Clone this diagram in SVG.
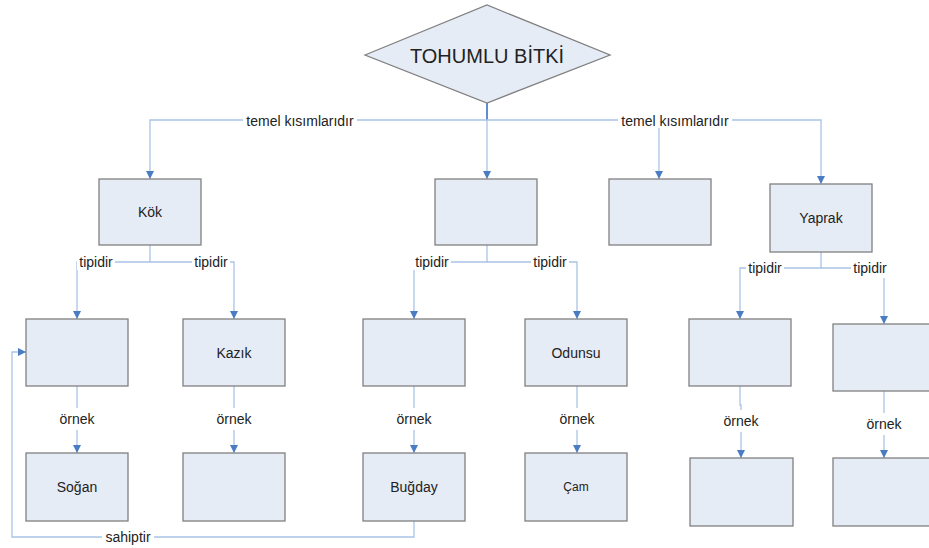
<svg xmlns="http://www.w3.org/2000/svg" width="929" height="548" viewBox="0 0 929 548">
<style>
.box{fill:#e6ecf6;stroke:#808080;stroke-width:1.3}
.dia{fill:#e6ecf6;stroke:#808080;stroke-width:1.3}
.c{fill:none;stroke:#a9c3e6;stroke-width:1.3}
.cd{fill:none;stroke:#5f8dcf;stroke-width:2}
.t{font-family:"Liberation Sans",Arial,sans-serif;font-size:14px;fill:#222;text-anchor:middle;dominant-baseline:central}
.lb{fill:#fff}
</style>
<defs>
<marker id="ah" markerWidth="10" markerHeight="10" refX="9" refY="5" orient="auto" markerUnits="userSpaceOnUse" viewBox="0 0 10 10">
<path d="M1,1 L9,5 L1,9 Z" fill="#4a7cc4"/>
</marker>
</defs>
<rect width="929" height="548" fill="#fff"/>
<g id="connectors">
<path class="cd" d="M487,103 V120"/>
<path class="c" d="M487,120 H150 V179" marker-end="url(#ah)"/>
<path class="c" d="M487,120 V179" marker-end="url(#ah)"/>
<path class="c" d="M487,120 H821 V184" marker-end="url(#ah)"/>
<path class="c" d="M659,128 V179" marker-end="url(#ah)"/>
<path class="c" d="M150,245 V262 H77 V319" marker-end="url(#ah)"/>
<path class="c" d="M150,262 H234 V319" marker-end="url(#ah)"/>
<path class="c" d="M487,245 V262 H414 V319" marker-end="url(#ah)"/>
<path class="c" d="M487,262 H577 V319" marker-end="url(#ah)"/>
<path class="c" d="M821,252 V268 H740 V319" marker-end="url(#ah)"/>
<path class="c" d="M821,268 H884 V324" marker-end="url(#ah)"/>
<path class="c" d="M77,386 V453" marker-end="url(#ah)"/>
<path class="c" d="M234,386 V453" marker-end="url(#ah)"/>
<path class="c" d="M414,386 V453" marker-end="url(#ah)"/>
<path class="c" d="M577,386 V453" marker-end="url(#ah)"/>
<path class="c" d="M740,386 V405 H741 V458" marker-end="url(#ah)"/>
<path class="c" d="M884,391 V458" marker-end="url(#ah)"/>
<path class="c" d="M414,521 V537 H12 V352 H26" marker-end="url(#ah)"/>
<rect class="lb" x="243" y="112" width="114" height="17"/>
<text class="t" x="300" y="121">temel kısımlarıdır</text>
<rect class="lb" x="618" y="112" width="114" height="16"/>
<text class="t" x="675" y="121">temel kısımlarıdır</text>
<rect class="lb" x="77" y="254" width="38" height="16"/>
<text class="t" x="96" y="262">tipidir</text>
<rect class="lb" x="192" y="254" width="38" height="16"/>
<text class="t" x="211" y="262">tipidir</text>
<rect class="lb" x="413" y="254" width="38" height="16"/>
<text class="t" x="432" y="262">tipidir</text>
<rect class="lb" x="531" y="254" width="38" height="16"/>
<text class="t" x="550" y="262">tipidir</text>
<rect class="lb" x="746" y="260" width="38" height="17"/>
<text class="t" x="765" y="268">tipidir</text>
<rect class="lb" x="851" y="260" width="38" height="18"/>
<text class="t" x="870" y="268">tipidir</text>
<rect class="lb" x="56" y="408" width="42" height="22"/>
<text class="t" x="77" y="419">örnek</text>
<rect class="lb" x="213" y="408" width="42" height="22"/>
<text class="t" x="234" y="419">örnek</text>
<rect class="lb" x="393" y="408" width="42" height="22"/>
<text class="t" x="414" y="419">örnek</text>
<rect class="lb" x="556" y="408" width="42" height="22"/>
<text class="t" x="577" y="419">örnek</text>
<rect class="lb" x="720" y="410" width="42" height="22"/>
<text class="t" x="741" y="421">örnek</text>
<rect class="lb" x="863" y="413" width="42" height="22"/>
<text class="t" x="884" y="424">örnek</text>
<rect class="lb" x="102" y="529" width="52" height="16"/>
<text class="t" x="128" y="537">sahiptir</text>
</g>
<g id="n-tohumlu">
<polygon class="dia" points="365,55 487,5 610,55 487,103"/>
<text class="t" x="487" y="56" style="font-size:20px">TOHUMLU BİTKİ</text>
</g>
<g id="n-kok"><rect class="box" x="99" y="179" width="102" height="66"/><text class="t" x="150" y="212">Kök</text></g>
<g id="n-govde"><rect class="box" x="435" y="179" width="102" height="66"/></g>
<g id="n-cicek"><rect class="box" x="609" y="179" width="102" height="66"/></g>
<g id="n-yaprak"><rect class="box" x="770" y="184" width="102" height="68"/><text class="t" x="821" y="218">Yaprak</text></g>
<g id="n-sacak"><rect class="box" x="26" y="319" width="102" height="67"/></g>
<g id="n-kazik"><rect class="box" x="183" y="319" width="102" height="67"/><text class="t" x="234" y="353">Kazık</text></g>
<g id="n-otsu"><rect class="box" x="363" y="319" width="102" height="67"/></g>
<g id="n-odunsu"><rect class="box" x="525" y="319" width="102" height="67"/><text class="t" x="576" y="353">Odunsu</text></g>
<g id="n-yaprak1"><rect class="box" x="689" y="319" width="102" height="67"/></g>
<g id="n-yaprak2"><rect class="box" x="833" y="324" width="102" height="67"/></g>
<g id="n-sogan"><rect class="box" x="26" y="453" width="102" height="68"/><text class="t" x="77" y="487">Soğan</text></g>
<g id="n-kazikornek"><rect class="box" x="183" y="453" width="102" height="68"/></g>
<g id="n-bugday"><rect class="box" x="363" y="453" width="102" height="68"/><text class="t" x="414" y="487">Buğday</text></g>
<g id="n-cam"><rect class="box" x="525" y="453" width="102" height="68"/><text class="t" x="576" y="487" style="font-size:12px">Çam</text></g>
<g id="n-ornek5"><rect class="box" x="690" y="458" width="103" height="68"/></g>
<g id="n-ornek6"><rect class="box" x="833" y="458" width="102" height="68"/></g>
</svg>
